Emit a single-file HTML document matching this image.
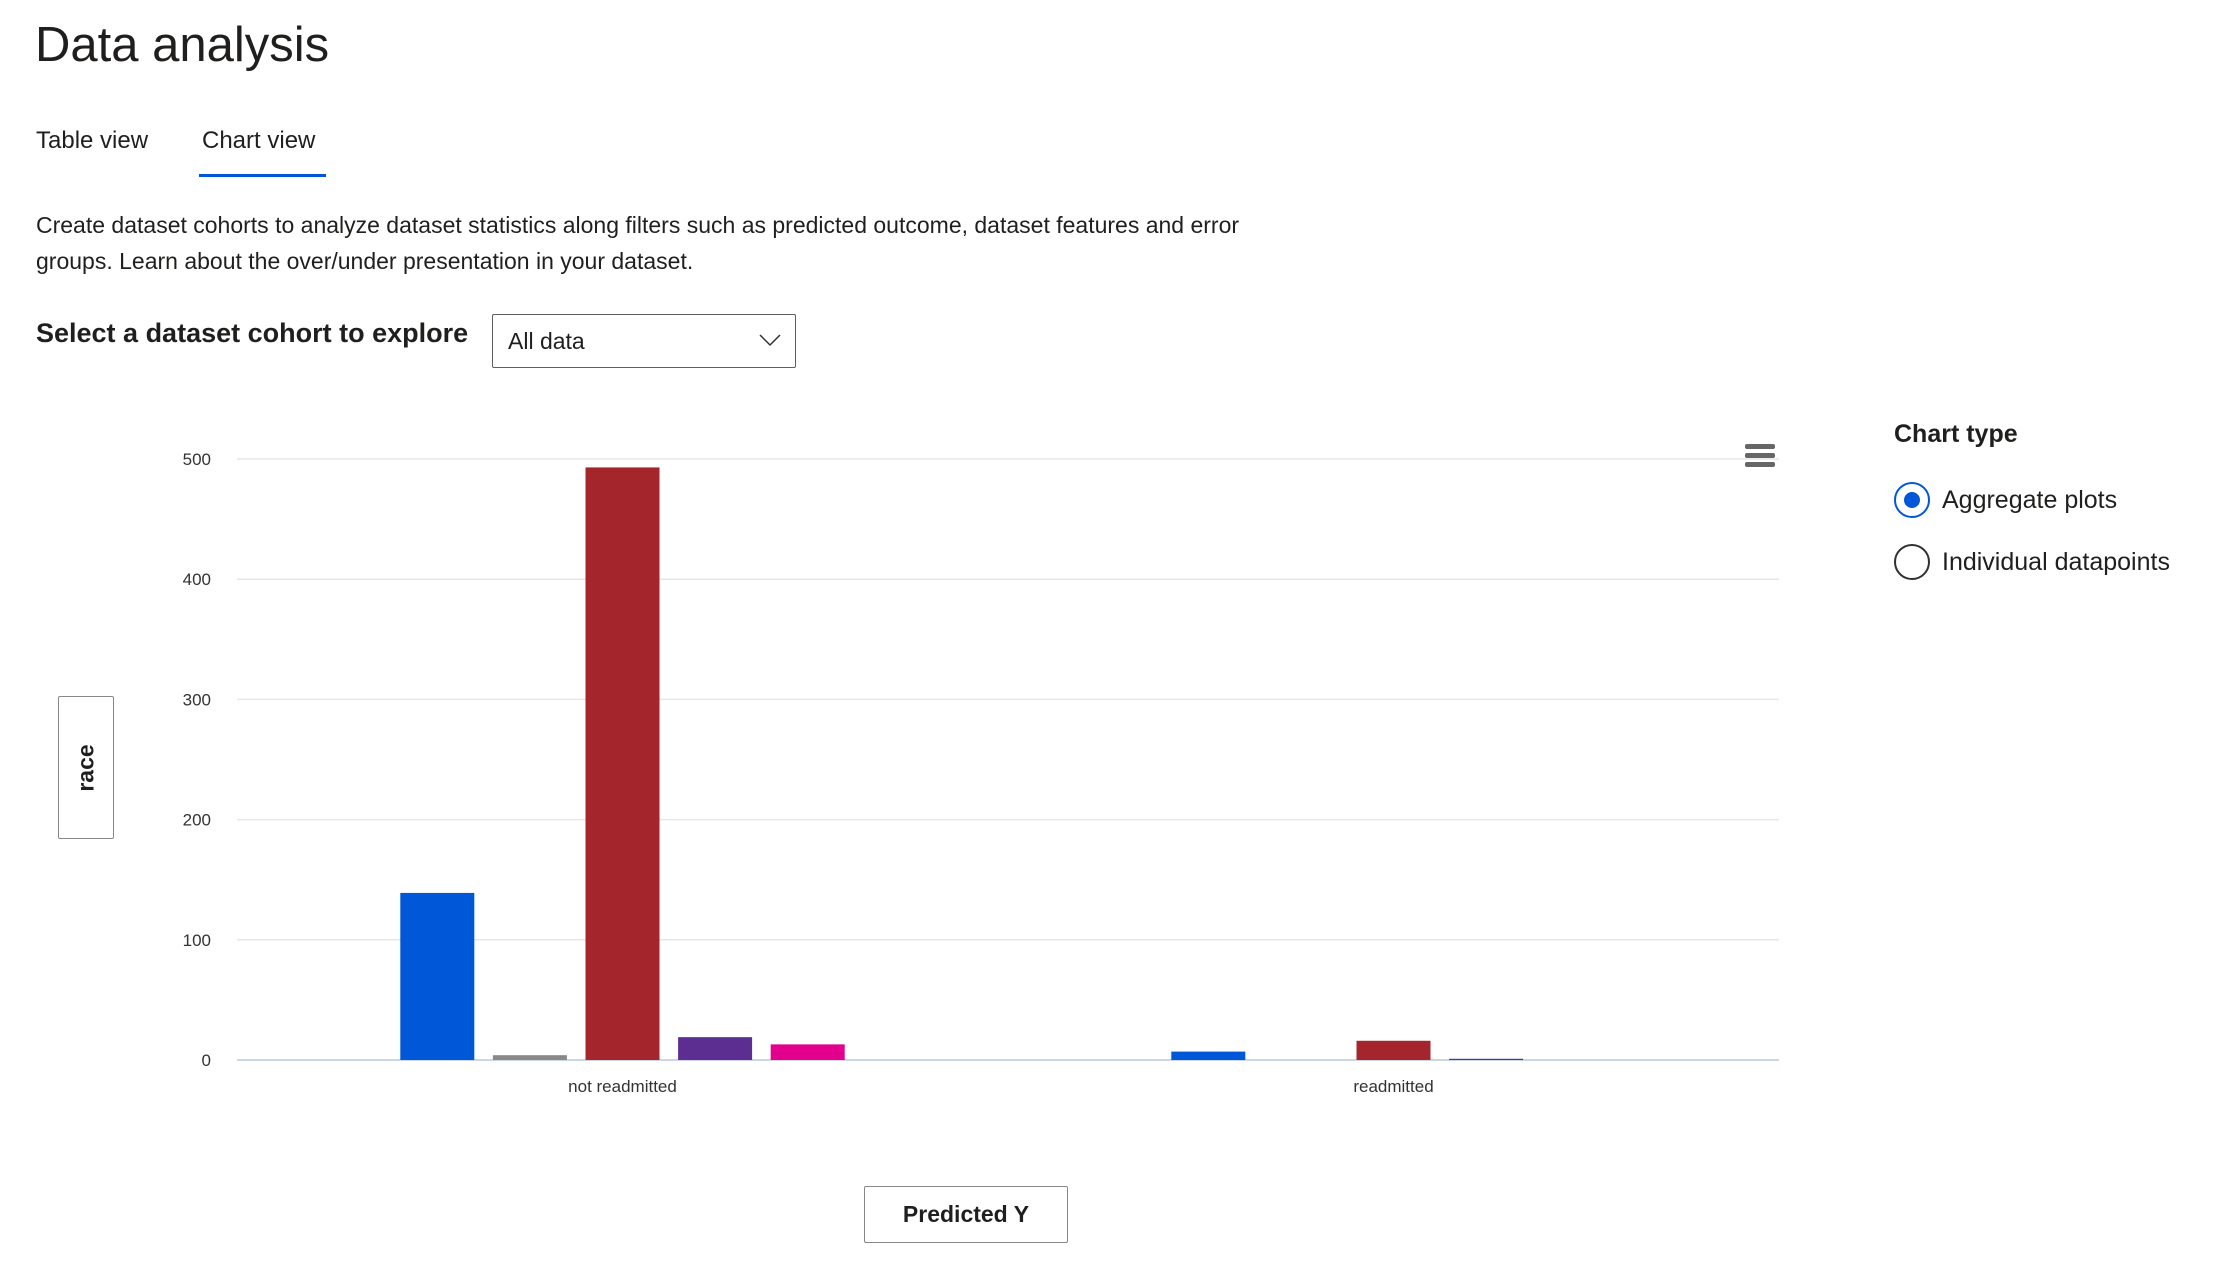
<!DOCTYPE html>
<html><head><meta charset="utf-8">
<style>
body{margin:0;width:2223px;height:1261px;background:#fff;font-family:"Liberation Sans",sans-serif;color:#201f1e;position:relative;overflow:hidden}
.a{position:absolute;white-space:nowrap}
</style></head><body>
<div class="a" style="left:35px;top:13px;font-size:49px;line-height:64px">Data analysis</div>
<div class="a" style="left:36px;top:127px;font-size:24px">Table view</div>
<div class="a" style="left:202px;top:127px;font-size:24px">Chart view</div>
<div class="a" style="left:199px;top:174px;width:127px;height:3px;background:#0058d9"></div>
<div class="a" style="left:36px;top:207px;font-size:23px;line-height:36px;white-space:normal;width:1230px">Create dataset cohorts to analyze dataset statistics along filters such as predicted outcome, dataset features and error groups. Learn about the over/under presentation in your dataset.</div>
<div class="a" style="left:36px;top:318px;font-size:27px;font-weight:bold">Select a dataset cohort to explore</div>
<div class="a" style="left:492px;top:314px;width:304px;height:54px;border:1px solid #605e5c;border-radius:2px;box-sizing:border-box">
<span class="a" style="left:15px;top:13px;font-size:23px">All data</span>
<svg class="a" style="left:266px;top:18px" width="22" height="14"><polyline points="1,2 11,12 21,2" fill="none" stroke="#323130" stroke-width="1.5"/></svg>
</div>
<div class="a" style="left:58px;top:696px;width:56px;height:143px;border:1px solid #8a8886;border-radius:2px;box-sizing:border-box">
<span class="a" style="left:50%;top:50%;transform:translate(-50%,-50%) rotate(-90deg);font-size:23px;font-weight:bold">race</span>
</div>
<div class="a" style="left:864px;top:1186px;width:204px;height:57px;border:1px solid #8a8886;border-radius:2px;box-sizing:border-box;text-align:center;line-height:55px;font-size:23px;font-weight:bold">Predicted Y</div>
<svg class="a" style="left:0;top:0" width="2223" height="1261" id="chart"></svg>
<div class="a" style="left:1745px;top:444px;width:30px;height:26px">
<div style="height:5px;background:#666;border-radius:2px;margin-bottom:4px"></div><div style="height:5px;background:#666;border-radius:2px;margin-bottom:4px"></div><div style="height:5px;background:#666;border-radius:2px"></div></div>
<div class="a" style="left:1894px;top:420px;font-size:25px;font-weight:bold">Chart type</div>
<div class="a" style="left:1894px;top:482px;width:36px;height:36px;border:2px solid #0058d9;border-radius:50%;box-sizing:border-box"><div style="position:absolute;left:8px;top:8px;width:16px;height:16px;border-radius:50%;background:#0058d9"></div></div>
<div class="a" style="left:1942px;top:486px;font-size:25px">Aggregate plots</div>
<div class="a" style="left:1894px;top:544px;width:36px;height:36px;border:2px solid #323130;border-radius:50%;box-sizing:border-box"></div>
<div class="a" style="left:1942px;top:548px;font-size:25px">Individual datapoints</div>
<script>
const categories=["not readmitted","readmitted"];
const seriesColors=["#0058d9","#8a8886","#a4262c","#5c2e91","#e3008c"];
const blueVals=[139,7];
const grayVals=[4,0];
const redVals=[493,16];
const purpleVals=[19,1];
const pinkVals=[13,0];
const yTicks=[0,100,200,300,400,500];
const series=[blueVals,grayVals,redVals,purpleVals,pinkVals];
const svg=document.getElementById('chart');
const NS='http://www.w3.org/2000/svg';
const x0=237,x1=1779,y0=1060,y1=459,ymax=500;
const yS=v=>y0-(v/ymax)*(y0-y1);
const band=(x1-x0)/categories.length;
const slot=92.6,bw=74;
function mk(t,a){const e=document.createElementNS(NS,t);for(const k in a)e.setAttribute(k,a[k]);svg.appendChild(e);return e;}
yTicks.forEach(t=>{
 const l=mk('line',{x1:x0,x2:x1,y1:yS(t),y2:yS(t),stroke:t===0?'#ccd6eb':'#e6e6e6','stroke-width':t===0?2:1.5});
 
 
 const tx=mk('text',{x:211,y:yS(t)+6,'text-anchor':'end','font-size':17,fill:'#333','font-family':'Liberation Sans, sans-serif'});
 tx.textContent=t;
 
 
});
categories.forEach((c,i)=>{
 const cx=x0+band*(i+0.5);
 const tx=mk('text',{x:cx,y:1092,'text-anchor':'middle','font-size':17,fill:'#333','font-family':'Liberation Sans, sans-serif'});
 tx.textContent=c;
 
 
 series.forEach((s,j)=>{
  const v=s[i];if(v<=0)return;
  const bx=cx+(j-2)*slot-bw/2;
  const r=mk('rect',{x:bx,y:yS(v),width:bw,height:y0-yS(v),fill:seriesColors[j]});
  
  
 });
});
</script>
</body></html>
